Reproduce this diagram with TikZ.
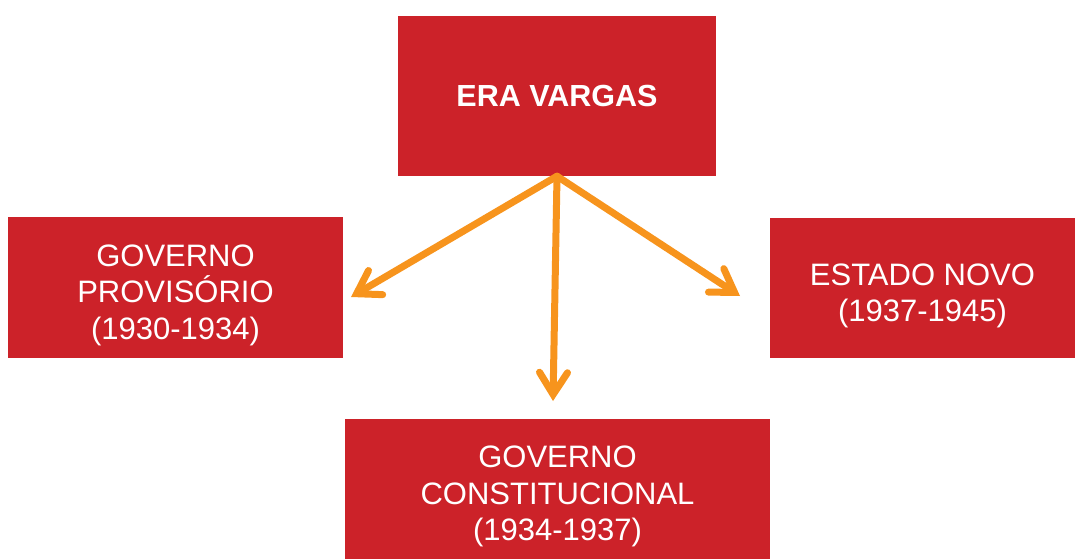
\documentclass[tikz,border=0pt]{standalone}
\usepackage{fontspec}
\setmainfont{Liberation Sans}
\usetikzlibrary{arrows.meta}
\definecolor{boxred}{HTML}{CC2229}
\definecolor{arrorange}{HTML}{F7941D}
\newcommand{\dnstrut}{\rule{0pt}{37pt}}
\begin{document}
\begin{tikzpicture}[x=1pt,y=-1pt,
  box/.style={fill=boxred, draw=none, text=white, align=center, inner sep=0pt,
    font=\fontsize{31}{36.5}\selectfont},
  link/.style={draw=arrorange, line width=7pt, line cap=round,
    -{Straight Barb[line cap=round, line join=miter, length=22pt, width=28pt]}}]
\useasboundingbox (0,0) rectangle (1075,559);
\node[box, minimum width=318pt, minimum height=160pt, font=\fontsize{30.5}{36}\selectfont\bfseries] (era) at (557,96) {ERA VARGAS};
\node[box, minimum width=335pt, minimum height=141pt] (prov) at (175.5,287.5) {\dnstrut GOVERNO\\PROVISÓRIO\\(1930-1934)};
\node[box, minimum width=305pt, minimum height=140pt] (novo) at (922.5,288) {\dnstrut ESTADO NOVO\\(1937-1945)};
\node[box, minimum width=425pt, minimum height=140pt] (const) at (557.5,489) {\dnstrut GOVERNO\\CONSTITUCIONAL\\(1934-1937)};
\coordinate (tl) at (351,297);
\coordinate (tr) at (740,296);
\coordinate (tc) at (553,401);
\draw[link] (era.south) -- (tl);
\draw[link] (era.south) -- (tr);
\draw[link] (era.south) -- (tc);
\end{tikzpicture}
\end{document}
